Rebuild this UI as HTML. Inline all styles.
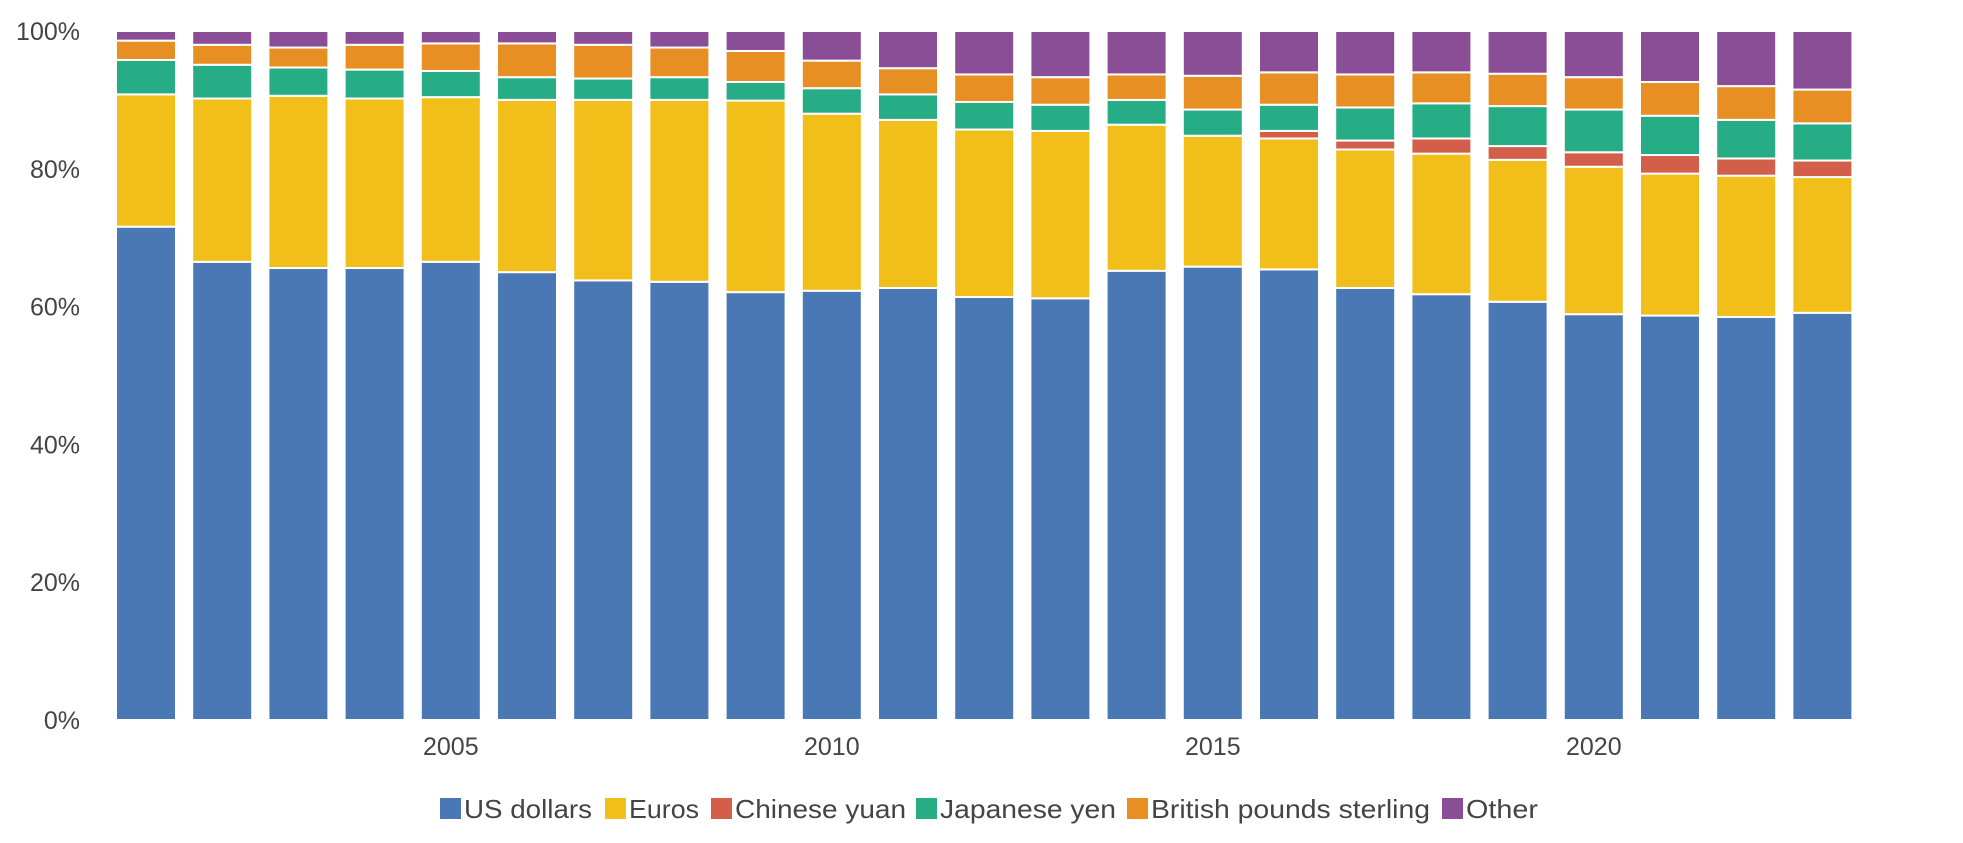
<!DOCTYPE html>
<html><head><meta charset="utf-8"><style>
html,body{margin:0;padding:0;background:#fff;width:1963px;height:843px;overflow:hidden}
svg text{font-family:"Liberation Sans",sans-serif;fill:#444}
</style></head><body>
<svg id="chart" width="1963" height="843" xmlns="http://www.w3.org/2000/svg">
<g id="yaxis"></g>
<g id="xaxis"></g>
<g id="bars"></g>
<g id="legend"></g>
</svg>
<script>
const years = [2001,2002,2003,2004,2005,2006,2007,2008,2009,2010,2011,2012,2013,2014,2015,2016,2017,2018,2019,2020,2021,2022,2023];
const usd = [71.6,66.5,65.6,65.6,66.5,65.0,63.8,63.6,62.1,62.3,62.7,61.4,61.2,65.2,65.8,65.4,62.7,61.8,60.7,58.9,58.7,58.5,59.1];
const eur = [19.2,23.7,25.0,24.6,23.9,25.0,26.2,26.4,27.8,25.7,24.4,24.3,24.3,21.2,19.0,19.0,20.1,20.4,20.6,21.4,20.6,20.5,19.7];
const cny = [0,0,0,0,0,0,0,0,0,0,0,0,0,0,0,1.1,1.3,2.2,2.0,2.1,2.7,2.5,2.4];
const jpy = [5.0,4.9,4.1,4.2,3.8,3.3,3.1,3.3,2.7,3.7,3.7,4.0,3.8,3.6,3.8,3.8,4.8,5.1,5.8,6.2,5.7,5.6,5.4];
const gbp = [2.8,2.9,2.9,3.6,4.0,4.9,4.9,4.3,4.5,4.0,3.8,4.0,4.0,3.7,4.9,4.7,4.8,4.5,4.7,4.7,4.9,4.9,4.9];
const other = years.map((y,i)=>Math.max(0,100-usd[i]-eur[i]-cny[i]-jpy[i]-gbp[i]));
const seriesNames = ["US dollars","Euros","Chinese yuan","Japanese yen","British pounds sterling","Other"];
const seriesColors = ["#4a78b4","#f2be1a","#d35f4b","#26ad86","#e88f24","#8a4e96"];
const yTicks = [0,20,40,60,80,100];
const xTickYears = [2005,2010,2015,2020];

const NS="http://www.w3.org/2000/svg";
const y0=720, y1=31, left=116, pitch=76.2, bw=60;
const yScale=v=>y0-(v/100)*(y0-y1);
const xScale=i=>left+i*pitch;
function mk(tag,attrs,parent){const e=document.createElementNS(NS,tag);for(const k in attrs)e.setAttribute(k,attrs[k]);parent.appendChild(e);return e;}

const yg=document.getElementById('yaxis');
yTicks.forEach(t=>{
  const e=mk('text',{x:80,y:yScale(t)+9,'text-anchor':'end','font-size':25},yg);
  e.textContent=t+'%';
  
  
});
const xg=document.getElementById('xaxis');
xTickYears.forEach(yr=>{
  const i=years.indexOf(yr);
  const e=mk('text',{x:xScale(i)+bw/2,y:755,'text-anchor':'middle','font-size':25},xg);
  e.textContent=yr;
  
  
});
const series=[usd,eur,cny,jpy,gbp,other];
const bg=document.getElementById('bars');
years.forEach((yr,i)=>{
  let cum=0;
  series.forEach((s,k)=>{
    const v=s[i];
    if(v<=0)return;
    const top=yScale(cum+v), bot=yScale(cum);
    const r=mk('rect',{x:xScale(i),y:top,width:bw,height:bot-top,fill:seriesColors[k],stroke:'#fff','stroke-width':2},bg);
    
    
    cum+=v;
  });
});
const lg=document.getElementById('legend');
const legendX=[440,605,711,916,1127,1442];
const legendW=[128,70,171,176,279,72];
seriesNames.forEach((n,k)=>{
  const r=mk('rect',{x:legendX[k],y:798,width:21,height:21,fill:seriesColors[k]},lg);
  
  
  const t=mk('text',{x:legendX[k]+24,y:818,'font-size':26,textLength:legendW[k],lengthAdjust:'spacingAndGlyphs'},lg);
  t.textContent=n;
  
  
});
</script>
</body></html>
